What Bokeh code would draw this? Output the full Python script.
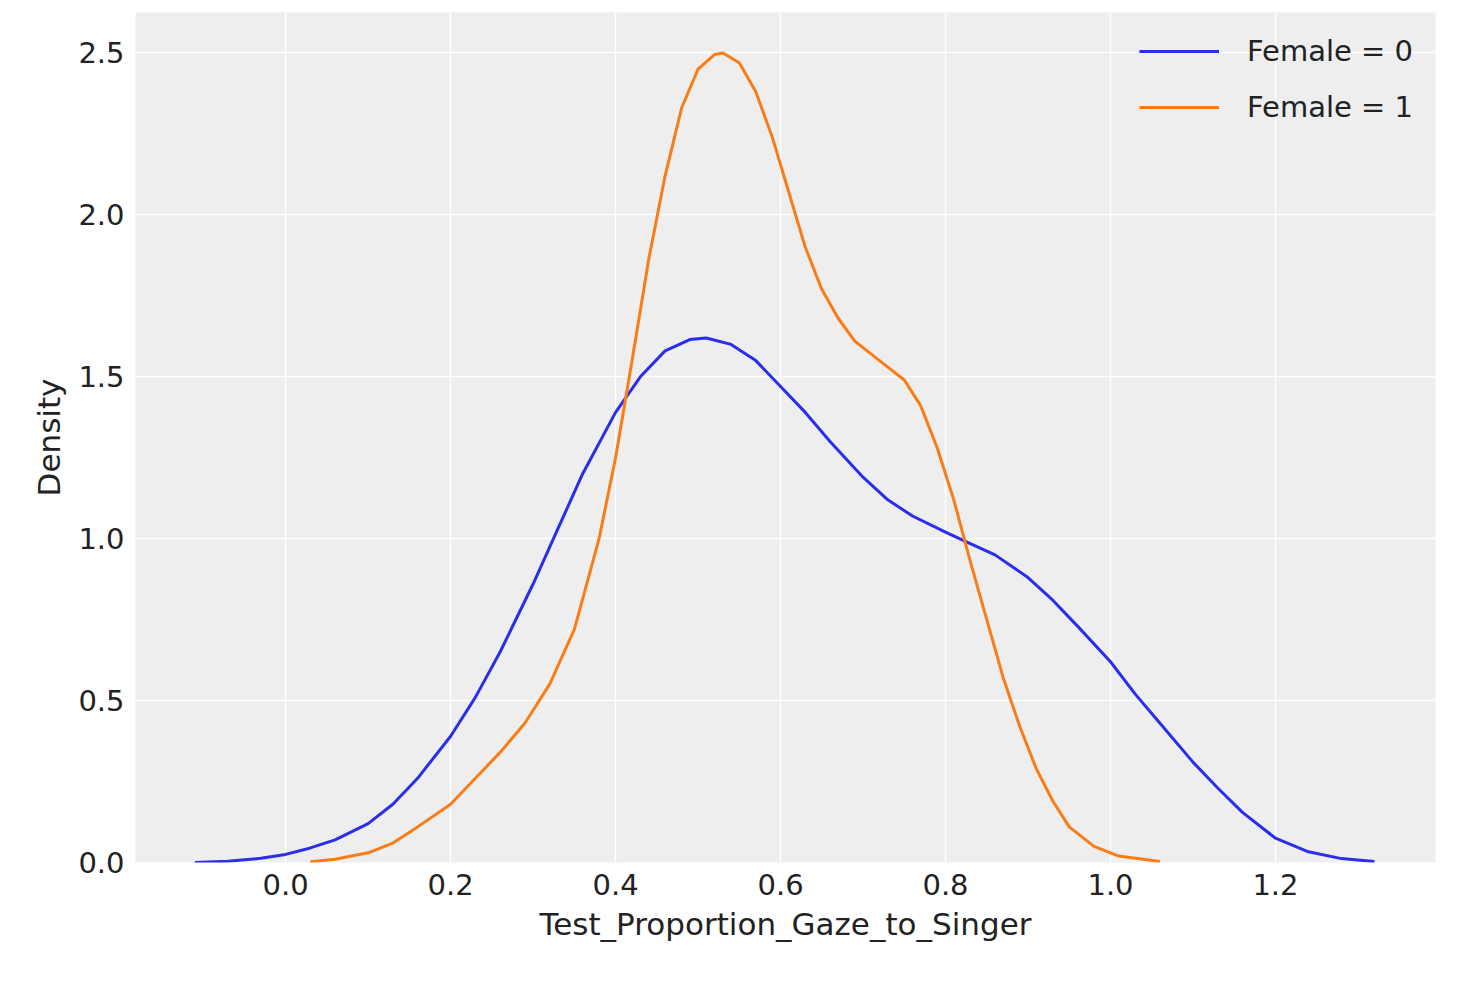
from bokeh.plotting import figure
from bokeh.models import Range1d, Legend, LegendItem, FixedTicker, PrintfTickFormatter
from bokeh.embed import file_html
from bokeh.resources import INLINE

# densities
x_f0 = [-0.11, -0.07, -0.03, 0.0, 0.03, 0.06, 0.1, 0.13, 0.16, 0.2, 0.23, 0.26, 0.3, 0.33, 0.36,
        0.4, 0.43, 0.46, 0.49, 0.51, 0.54, 0.57, 0.6, 0.63, 0.66, 0.7, 0.73, 0.76, 0.8, 0.83,
        0.86, 0.9, 0.93, 0.96, 1.0, 1.03, 1.06, 1.1, 1.13, 1.16, 1.2, 1.24, 1.28, 1.32]
y_f0 = [0.0, 0.004, 0.013, 0.025, 0.045, 0.07, 0.12, 0.18, 0.26, 0.39, 0.51, 0.65, 0.86, 1.03, 1.20,
        1.39, 1.50, 1.58, 1.615, 1.62, 1.60, 1.55, 1.47, 1.39, 1.30, 1.19, 1.12, 1.07, 1.02, 0.985,
        0.95, 0.88, 0.81, 0.73, 0.62, 0.52, 0.43, 0.31, 0.23, 0.155, 0.075, 0.033, 0.012, 0.003]
x_f1 = [0.03, 0.06, 0.1, 0.13, 0.16, 0.2, 0.23, 0.26, 0.29, 0.32, 0.35, 0.38, 0.4, 0.42, 0.44,
        0.46, 0.48, 0.5, 0.52, 0.53, 0.55, 0.57, 0.59, 0.61, 0.63, 0.65, 0.67, 0.69, 0.72, 0.75,
        0.77, 0.79, 0.81, 0.83, 0.85, 0.87, 0.89, 0.91, 0.93, 0.95, 0.98, 1.01, 1.06]
y_f1 = [0.002, 0.01, 0.03, 0.06, 0.11, 0.18, 0.26, 0.34, 0.43, 0.55, 0.72, 1.0, 1.25, 1.55, 1.86,
        2.12, 2.33, 2.45, 2.495, 2.50, 2.47, 2.38, 2.24, 2.07, 1.90, 1.77, 1.68, 1.61, 1.55, 1.49,
        1.41, 1.28, 1.12, 0.93, 0.75, 0.57, 0.42, 0.29, 0.19, 0.11, 0.05, 0.02, 0.003]

p = figure(width=1447, height=962, output_backend="svg", toolbar_location=None,
           x_range=Range1d(-0.182, 1.394), y_range=Range1d(0, 2.625),
           background_fill_color="#eeeeee", border_fill_color="white",
           x_axis_label="Test_Proportion_Gaze_to_Singer", y_axis_label="Density",
           min_border_left=135, min_border_bottom=100, min_border_top=12, min_border_right=12)
p.outline_line_color = None
p.grid.grid_line_color = "white"
p.grid.grid_line_width = 1.5
for ax in p.axis:
    ax.axis_line_color = None
    ax.major_tick_line_color = None
    ax.minor_tick_line_color = None
    ax.major_label_text_font_size = "29px"
    ax.axis_label_text_font_size = "31px"
    ax.axis_label_text_font_style = "normal"
    ax.major_label_text_color = "#222222"
    ax.axis_label_text_color = "#222222"
    ax.major_label_text_font = "DejaVu Sans"
    ax.axis_label_text_font = "DejaVu Sans"
    ax.formatter = PrintfTickFormatter(format="%.1f")
p.xaxis.ticker = FixedTicker(ticks=[0.0, 0.2, 0.4, 0.6, 0.8, 1.0, 1.2])
p.yaxis.ticker = FixedTicker(ticks=[0.0, 0.5, 1.0, 1.5, 2.0, 2.5])
p.xaxis.axis_label_standoff = 8
p.yaxis.axis_label_standoff = 8

r0 = p.line(x_f0, y_f0, line_color="#2a2eec", line_width=3)
r1 = p.line(x_f1, y_f1, line_color="#fa7c17", line_width=3)

leg = Legend(items=[LegendItem(label="Female = 0", renderers=[r0]),
                    LegendItem(label="Female = 1", renderers=[r1])],
             location="top_right", background_fill_alpha=0, border_line_color=None,
             label_text_font_size="29px", label_text_font="DejaVu Sans",
             label_text_color="#222222", glyph_width=80, label_standoff=28,
             spacing=22, margin=22, padding=8)
p.add_layout(leg)

open("out.html", "w").write(file_html(p, INLINE))
